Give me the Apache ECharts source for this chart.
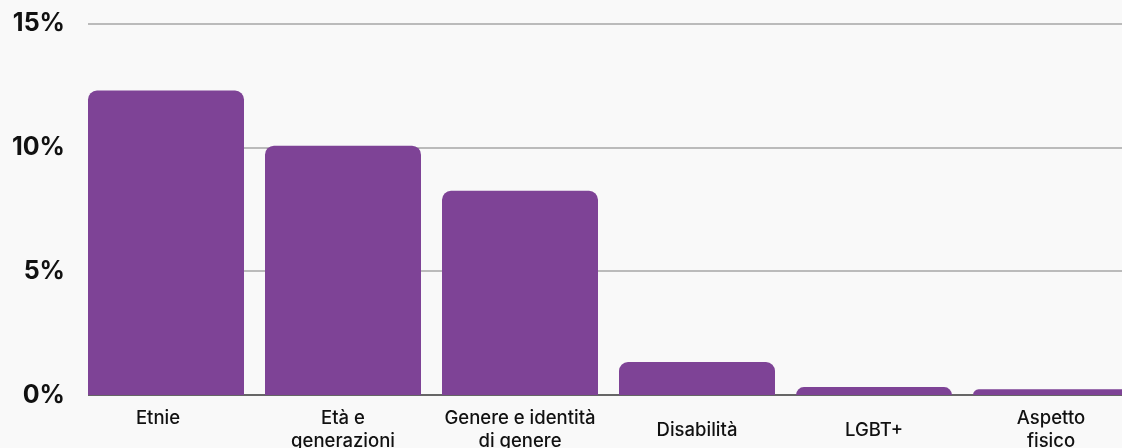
<!DOCTYPE html>
<html><head><meta charset="utf-8">
<script src="https://cdn.jsdelivr.net/npm/echarts@6/dist/echarts.min.js"></script>
<style>html,body{margin:0;padding:0;background:#f9f9f9}#c{width:1122px;height:448px}</style>
</head><body><div id="c"></div>
<script>
const categories = ['Etnie', 'Età e\ngenerazioni', 'Genere e identità\ndi genere', 'Disabilità', 'LGBT+', 'Aspetto\nfisico'];
const values = [12.3, 10.07, 8.25, 1.33, 0.32, 0.23];
const yTicks = [0, 5, 10, 15];

const font = { fontFamily: 'Inter', fontSize: 18.5, fontWeight: 500, color: '#111' };
const labelBase = Object.assign({ verticalAlign: 'middle', lineHeight: 23 }, font);
const rich = { e: Object.assign({ padding: [0, 16, 0, 0], lineHeight: 23 }, font) };
const chart = echarts.init(document.getElementById('c'));
chart.setOption({
  backgroundColor: '#f9f9f9',
  animation: false,
  grid: [
    { left: 77.5, top: 23.7, width: 1062, height: 371.3, outerBoundsMode: 'none' },
    { left: 88, top: 23.7, right: 0, height: 371.3, outerBoundsMode: 'none' }
  ],
  xAxis: [{
    type: 'category', gridIndex: 0,
    data: categories.map((c, i) => i === 0 ? { value: c, textStyle: Object.assign({}, labelBase, { verticalAlign: 'bottom', rich: rich }) } : c),
    axisTick: { show: false },
    axisLine: { show: false },
    axisLabel: Object.assign({ interval: 0, margin: 35, rich: rich, formatter: v => v === categories[0] ? '{e|' + v + '}' : v }, labelBase)
  }, {
    type: 'value', gridIndex: 1, show: false
  }],
  yAxis: [{
    type: 'value', gridIndex: 0, min: yTicks[0], max: yTicks[yTicks.length - 1], interval: 5, show: false
  }, {
    type: 'value', gridIndex: 1, min: yTicks[0], max: yTicks[yTicks.length - 1], interval: 5,
    axisLine: { show: false }, axisTick: { show: false },
    splitLine: { lineStyle: { color: ['#666', '#bbb', '#bbb', '#bbb'], width: 2 } },
    axisLabel: {
      formatter: v => v + '%', margin: 23,
      fontFamily: 'Inter', fontSize: 25, fontWeight: 700, color: '#111'
    }
  }],
  series: [{
    type: 'bar', data: values, barWidth: 156, xAxisIndex: 0, yAxisIndex: 0, z: 5,
    itemStyle: { color: '#7e4396', borderRadius: [9, 9, 0, 0] }
  }]
});
</script></body></html>
